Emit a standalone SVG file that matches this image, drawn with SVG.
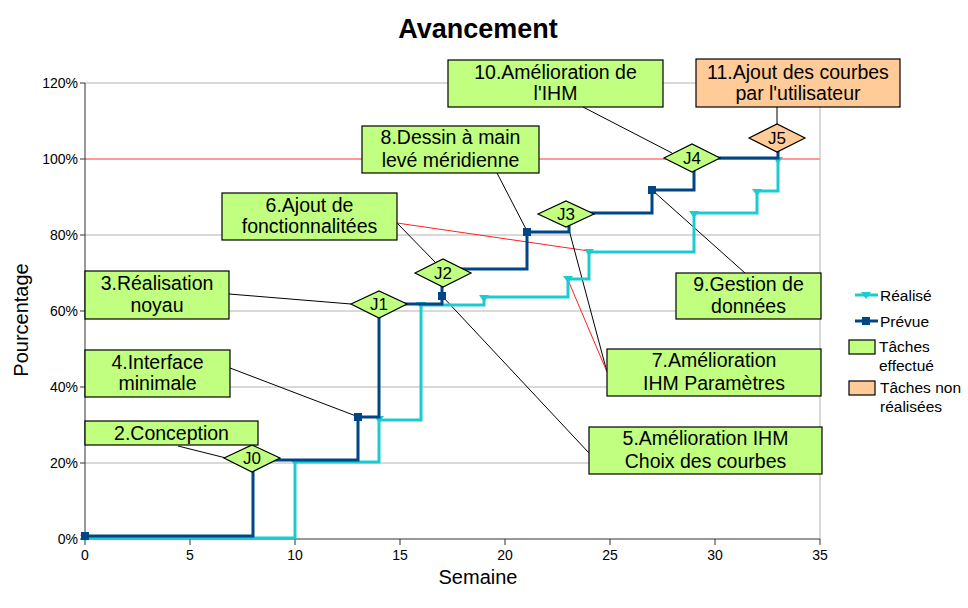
<svg xmlns="http://www.w3.org/2000/svg" width="968" height="608" viewBox="0 0 968 608">
<defs>
<style>
text{font-family:"Liberation Sans",Arial,sans-serif;fill:#000}
.box{fill:#c0ff80;stroke:#000;stroke-width:1.2}
.nr{fill:#ffcc99;stroke:#000;stroke-width:1.2}
.bt{font-size:19.5px;text-anchor:middle}
.jt{font-size:17px;text-anchor:middle}
.tick{font-size:14px}
.grid{stroke:#b3b3b3;stroke-width:1}
.lead{stroke:#000;stroke-width:1;fill:none}
.red{stroke:#ff2020;stroke-width:1;fill:none}
.plan{stroke:#004586;stroke-width:3;fill:none}
.real{stroke:#1ccbd0;stroke-width:3;fill:none}
.lg{font-size:15.5px}
</style>
<rect id="sq" x="-4" y="-4" width="8" height="8" fill="#004586"/>
<path id="tri" d="M-5,-3 L5,-3 L0,4 Z" fill="#1ccbd0"/>
</defs>
<rect width="968" height="608" fill="#fff"/>
<text x="478" y="38" font-size="27" font-weight="bold" text-anchor="middle">Avancement</text>
<g id="grid">
<line class="grid" x1="85" y1="463" x2="820" y2="463"/>
<line class="grid" x1="85" y1="387" x2="820" y2="387"/>
<line class="grid" x1="85" y1="311" x2="820" y2="311"/>
<line class="grid" x1="85" y1="235" x2="820" y2="235"/>
<line class="grid" x1="85" y1="83" x2="820" y2="83"/>
<line x1="85" y1="159" x2="820" y2="159" stroke="#ff3333" stroke-width="1"/>
<line class="grid" x1="820" y1="83" x2="820" y2="539"/>
</g>
<g id="axes" stroke="#333" stroke-width="1">
<line x1="85" y1="83" x2="85" y2="539"/>
<line x1="85" y1="539" x2="820" y2="539"/>
<path d="M80,539H85M80,463H85M80,387H85M80,311H85M80,235H85M80,159H85M80,83H85"/>
<path d="M85,539V545M190,539V545M295,539V545M400,539V545M505,539V545M610,539V545M715,539V545M820,539V545"/>
</g>
<g id="ylabels" class="tick" text-anchor="end">
<text x="78" y="544" class="tick">0%</text>
<text x="78" y="468" class="tick">20%</text>
<text x="78" y="392" class="tick">40%</text>
<text x="78" y="316" class="tick">60%</text>
<text x="78" y="240" class="tick">80%</text>
<text x="78" y="164" class="tick">100%</text>
<text x="78" y="88" class="tick">120%</text>
</g>
<g id="xlabels" text-anchor="middle">
<text x="85" y="560" class="tick">0</text>
<text x="190" y="560" class="tick">5</text>
<text x="295" y="560" class="tick">10</text>
<text x="400" y="560" class="tick">15</text>
<text x="505" y="560" class="tick">20</text>
<text x="610" y="560" class="tick">25</text>
<text x="715" y="560" class="tick">30</text>
<text x="820" y="560" class="tick">35</text>
</g>
<text x="478" y="584" font-size="20" text-anchor="middle">Semaine</text>
<text transform="translate(28,320) rotate(-90)" font-size="20" text-anchor="middle">Pourcentage</text>

<g id="connectors">
<line class="lead" x1="178" y1="446" x2="226" y2="458"/>
<line class="lead" x1="230" y1="368" x2="356" y2="416"/>
<line class="lead" x1="229" y1="294" x2="351" y2="304"/>
<line class="lead" x1="397" y1="223" x2="436" y2="263"/>
<line class="red" x1="397" y1="223" x2="589" y2="251"/>
<line class="lead" x1="443" y1="297" x2="589" y2="453"/>
<line class="lead" x1="497" y1="173" x2="527" y2="231"/>
<line class="lead" x1="568" y1="226" x2="607" y2="372"/>
<line class="red" x1="568" y1="280" x2="607" y2="372"/>
<line class="lead" x1="652" y1="190" x2="745" y2="273"/>
<line class="lead" x1="583" y1="107" x2="672" y2="153"/>
<line class="lead" x1="777" y1="107" x2="777" y2="125"/>
</g>

<g id="series-realise">
<path class="real" d="M85,538 H295 V462 H379 V420 H421 V305 H484 V297 H568 V279 H589 V252 H694 V213 H757 V191 H778 V159"/>
<use href="#tri" x="85" y="538"/>
<use href="#tri" x="295" y="462"/>
<use href="#tri" x="379" y="419"/>
<use href="#tri" x="421" y="305"/>
<use href="#tri" x="484" y="298"/>
<use href="#tri" x="568" y="279"/>
<use href="#tri" x="589" y="252"/>
<use href="#tri" x="694" y="214"/>
<use href="#tri" x="757" y="192"/>
<use href="#tri" x="778" y="160"/>
</g>
<g id="series-prevue">
<path class="plan" d="M85,536 H253 V460 H358 V417 H379 V304 H442 V269 H527 V232 H569 V213 H652 V190 H694 V158 H778 V150"/>
<use href="#sq" x="85" y="536"/>
<use href="#sq" x="358" y="417"/>
<use href="#sq" x="442" y="296"/>
<use href="#sq" x="527" y="232"/>
<use href="#sq" x="652" y="190"/>
</g>

<g id="J0"><path class="box" d="M224,458 L252,445 L280,458 L252,472 Z"/><text class="jt" x="252" y="464">J0</text></g>
<g id="J1"><path class="box" d="M351,304 L379,291 L407,304 L379,318 Z"/><text class="jt" x="379" y="310">J1</text></g>
<g id="J2"><path class="box" d="M415,273 L443,259 L471,273 L443,287 Z"/><text class="jt" x="443" y="279">J2</text></g>
<g id="J3"><path class="box" d="M538,214 L566,201 L594,214 L566,227 Z"/><text class="jt" x="566" y="220">J3</text></g>
<g id="J4"><path class="box" d="M664,158 L692,144 L720,158 L692,172 Z"/><text class="jt" x="692" y="164">J4</text></g>
<g id="J5"><path class="nr" d="M749,138 L777,124 L805,138 L777,152 Z"/><text class="jt" x="777" y="144">J5</text></g>

<g id="task2"><rect class="box" x="85" y="421" width="173" height="24"/><text class="bt" x="171.5" y="440">2.Conception</text></g>
<g id="task4"><rect class="box" x="85" y="350" width="145" height="47"/><text class="bt" x="157.5" y="368.5">4.Interface</text><text class="bt" x="157.5" y="390">minimale</text></g>
<g id="task3"><rect class="box" x="85" y="271" width="144" height="48"/><text class="bt" x="157" y="289.5">3.Réalisation</text><text class="bt" x="157" y="311.5">noyau</text></g>
<g id="task6"><rect class="box" x="222" y="193" width="175" height="47"/><text class="bt" x="309.5" y="211.5">6.Ajout de</text><text class="bt" x="309.5" y="233">fonctionnalitées</text></g>
<g id="task8"><rect class="box" x="362" y="126" width="177" height="47"/><text class="bt" x="450.5" y="144">8.Dessin à main</text><text class="bt" x="450.5" y="166.5">levé méridienne</text></g>
<g id="task10"><rect class="box" x="448" y="60" width="215" height="47"/><text class="bt" x="555.5" y="78.5">10.Amélioration de</text><text class="bt" x="555.5" y="100">l'IHM</text></g>
<g id="task11"><rect class="nr" x="696" y="59" width="204" height="48"/><text class="bt" x="798" y="78.5">11.Ajout des courbes</text><text class="bt" x="798" y="100">par l'utilisateur</text></g>
<g id="task9"><rect class="box" x="676" y="273" width="145" height="46"/><text class="bt" x="748.5" y="291">9.Gestion de</text><text class="bt" x="748.5" y="313">données</text></g>
<g id="task7"><rect class="box" x="607" y="349" width="214" height="47"/><text class="bt" x="714" y="366.5">7.Amélioration</text><text class="bt" x="714" y="390">IHM Paramètres</text></g>
<g id="task5"><rect class="box" x="589" y="427" width="233" height="47"/><text class="bt" x="705.5" y="445">5.Amélioration IHM</text><text class="bt" x="705.5" y="467.5">Choix des courbes</text></g>

<g id="legend">
<line x1="855" y1="295" x2="878" y2="295" stroke="#1ccbd0" stroke-width="3"/>
<use href="#tri" x="866" y="295"/>
<text class="lg" x="880" y="301">Réalisé</text>
<line x1="855" y1="321" x2="878" y2="321" stroke="#004586" stroke-width="3"/>
<use href="#sq" x="866" y="321"/>
<text class="lg" x="880" y="327">Prévue</text>
<rect class="box" x="849" y="340" width="26" height="14" stroke-width="1"/>
<text class="lg" x="879" y="352">Tâches</text>
<text class="lg" x="879" y="371">effectué</text>
<rect class="nr" x="849" y="381" width="26" height="14" stroke-width="1"/>
<text class="lg" x="880" y="393">Tâches non</text>
<text class="lg" x="880" y="412">réalisées</text>
</g>
</svg>
